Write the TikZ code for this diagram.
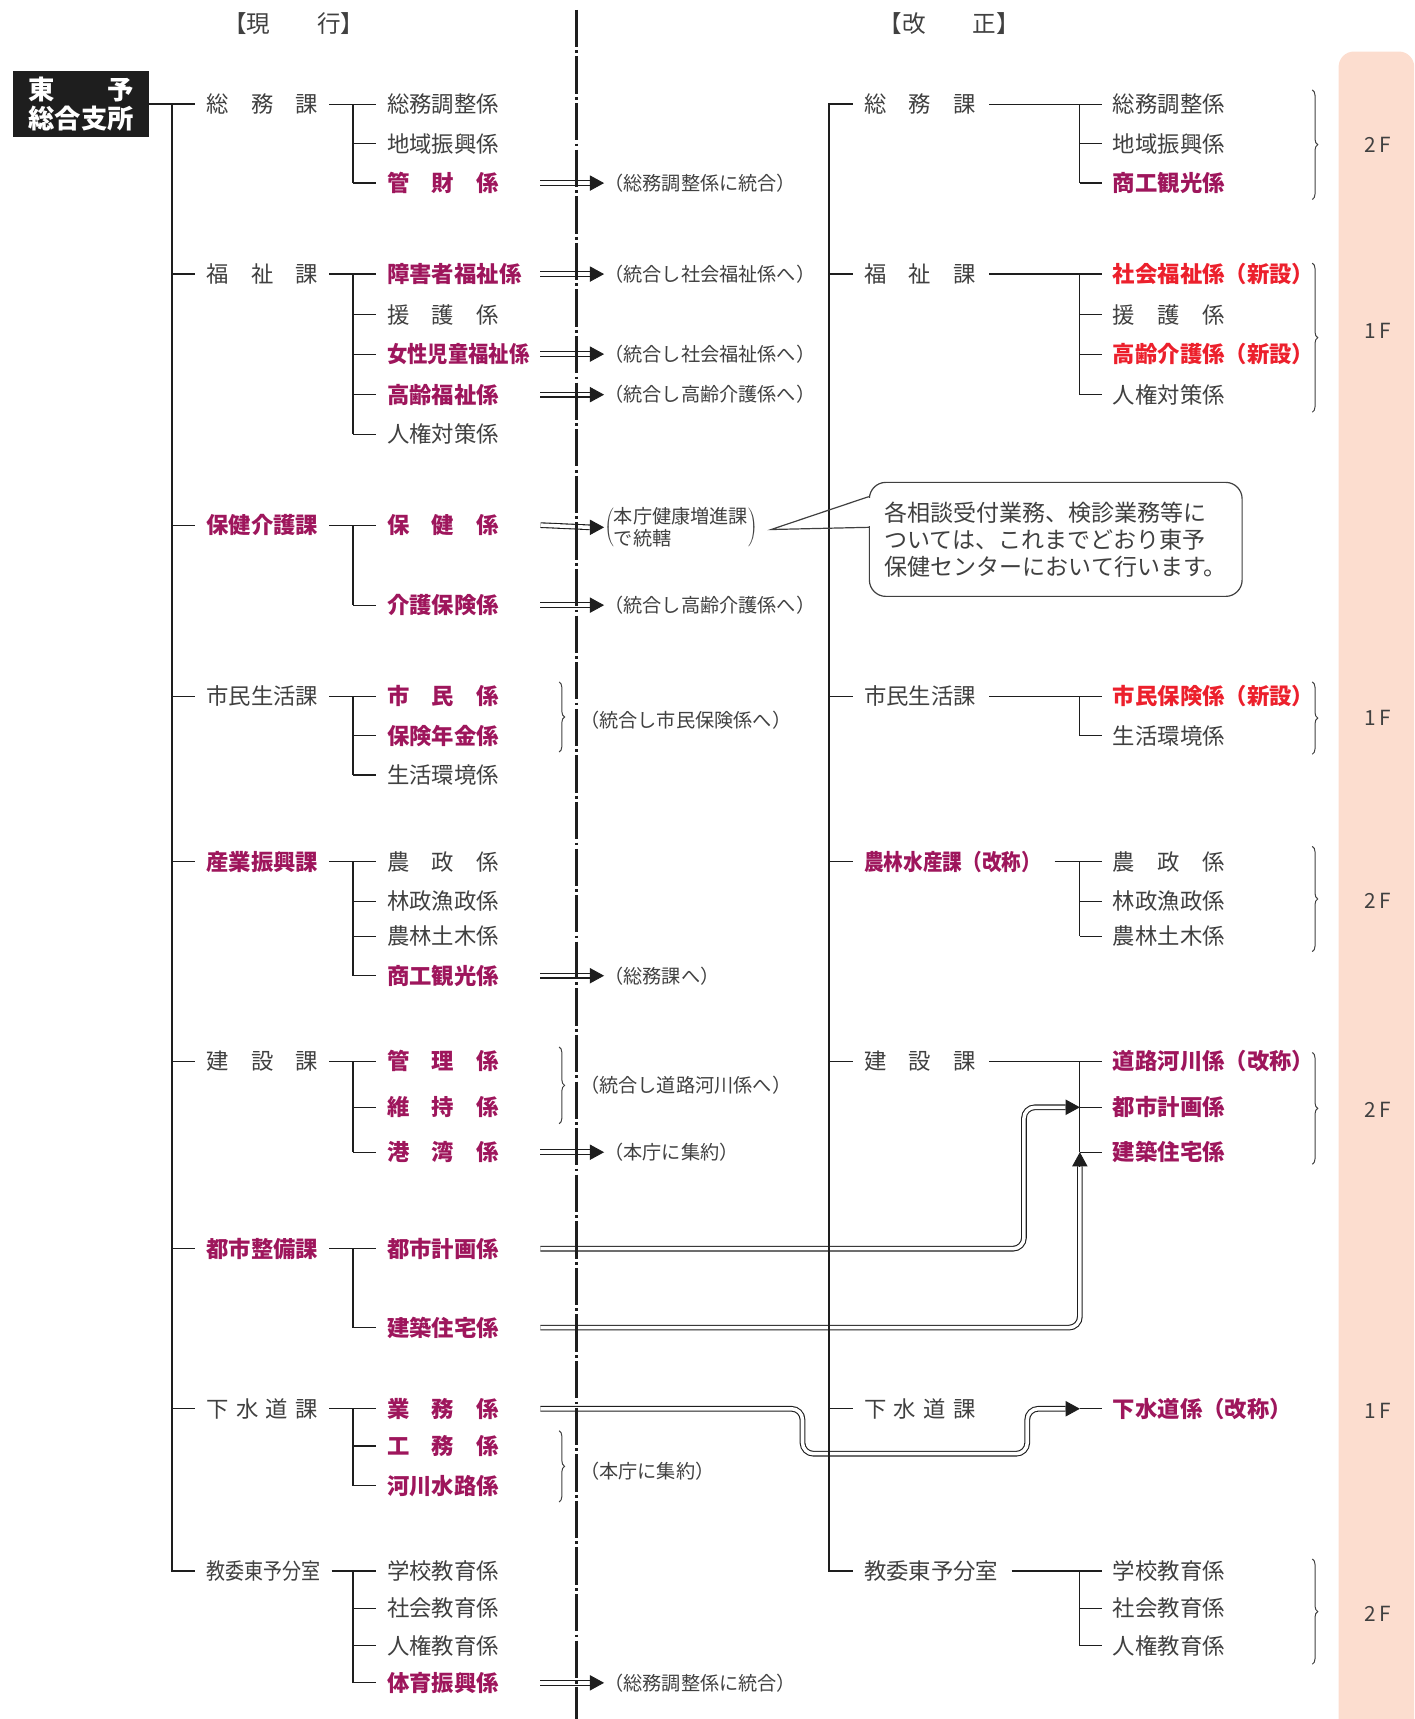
\documentclass[tikz,border=0pt]{standalone}
\usepackage{fontspec}
\setmainfont{Noto Sans CJK JP}
\usetikzlibrary{positioning}
\usetikzlibrary{calc}
\usetikzlibrary{arrows.meta,decorations.pathreplacing}

\definecolor{ink}{RGB}{64,64,64}
\definecolor{rule}{RGB}{30,30,30}
\definecolor{plum}{RGB}{158,22,92}
\definecolor{newred}{RGB}{236,32,44}
\definecolor{floorbg}{RGB}{252,221,207}

\tikzset{
  lbl/.style={anchor=west, inner sep=0pt, text height=18pt, text depth=2.4pt, text=ink, font=\fontsize{20.4pt}{24pt}\selectfont},
  mag/.style={lbl, text=plum, font=\fontsize{20.4pt}{24pt}\selectfont\bfseries},
  neu/.style={lbl, text=newred, font=\fontsize{20.4pt}{24pt}\selectfont\bfseries},
  notetext/.style={lbl, text height=15.4pt, text depth=2.1pt, font=\fontsize{17.5pt}{20pt}\selectfont},
  floortxt/.style={inner sep=0pt, text=ink, font=\fontsize{19pt}{19pt}\selectfont},
  branch/.style={draw=rule, line width=1.1pt},
  stem/.style={draw=rule, line width=1.8pt},
  dbl/.style={draw=rule, line width=1pt, double=white, double distance=3.2pt},
  tohead/.style={draw=rule, line width=.9pt, -{Triangle[length=13pt,width=14pt]}},
  brc/.style={draw=ink, line width=.9pt, decorate, decoration={brace, amplitude=5pt}},
}

\begin{document}
\begin{tikzpicture}[x=1pt,y=-1pt]
\useasboundingbox (0,0) rectangle (1290,1568);
\fill[floorbg, rounded corners=14pt] (1221,1580) -- (1221,47) -- (1290,47) -- (1290,1580);

% titles and head office
\node[lbl, anchor=center, font=\fontsize{21.5pt}{24pt}\selectfont](tGen) at (268,22){【現　　行】};
\node[lbl, anchor=center, font=\fontsize{21.5pt}{24pt}\selectfont](tKai) at (866,22){【改　　正】};
\node[fill=rule, text=white, inner sep=0pt, minimum width=124pt, minimum height=60pt, align=left, font=\fontsize{24pt}{27pt}\selectfont\bfseries](honbu) at (74,95){東　　予\\総合支所};

% current sections
\node[lbl](Lsomu) at (188,95){総　務　課};
\node[lbl](Lfuku) at (188,250){福　祉　課};
\node[mag](Lhoken) at (188,479){保健介護課};
\node[lbl](Lshimin) at (188,635){市民生活課};
\node[mag](Lsangyo) at (188,786){産業振興課};
\node[lbl](Lkensetsu) at (188,968){建　設　課};
\node[mag](Ltoshi) at (188,1139){都市整備課};
\node[lbl](Lgesui) at (188,1285){下\hskip6.8pt水\hskip6.8pt道\hskip6.8pt課};
\node[lbl](Lkyoi) at (188,1433){\scalebox{.85}[1]{教委東予分室}};

% current units
\node[lbl](Lsomu1) at (353,95){総務調整係};
\node[lbl](Lsomu2) at (353,131){地域振興係};
\node[mag](Lsomu3) at (353,167){管　財　係};
\node[mag](Lfuku1) at (353,250){障害者福祉係};
\node[lbl](Lfuku2) at (353,287){援　護　係};
\node[mag](Lfuku3) at (353,323){\scalebox{.91}[1]{女性児童福祉係}};
\node[mag](Lfuku4) at (353,360){高齢福祉係};
\node[lbl](Lfuku5) at (353,396){人権対策係};
\node[mag](Lhoken1) at (353,479){保　健　係};
\node[mag](Lhoken2) at (353,552){介護保険係};
\node[mag](Lshimin1) at (353,635){市　民　係};
\node[mag](Lshimin2) at (353,671){保険年金係};
\node[lbl](Lshimin3) at (353,707){生活環境係};
\node[lbl](Lsangyo1) at (353,786){農　政　係};
\node[lbl](Lsangyo2) at (353,822){林政漁政係};
\node[lbl](Lsangyo3) at (353,854){農林土木係};
\node[mag](Lsangyo4) at (353,890){商工観光係};
\node[mag](Lkensetsu1) at (353,968){管　理　係};
\node[mag](Lkensetsu2) at (353,1010){維　持　係};
\node[mag](Lkensetsu3) at (353,1051){港　湾　係};
\node[mag](Ltoshi1) at (353,1139){都市計画係};
\node[mag](Ltoshi2) at (353,1211){建築住宅係};
\node[mag](Lgesui1) at (353,1285){業　務　係};
\node[mag](Lgesui2) at (353,1319){工　務　係};
\node[mag](Lgesui3) at (353,1355){河川水路係};
\node[lbl](Lkyoi1) at (353,1433){学校教育係};
\node[lbl](Lkyoi2) at (353,1467){社会教育係};
\node[lbl](Lkyoi3) at (353,1501){人権教育係};
\node[mag](Lkyoi4) at (353,1535){体育振興係};

% notes
\node[notetext](nKanzai) at (551,167){（総務調整係に統合）};
\node[notetext](nShogai) at (551,250){（統合し社会福祉係へ）};
\node[notetext](nJosei) at (551,323){（統合し社会福祉係へ）};
\node[notetext](nKorei) at (551,360){（統合し高齢介護係へ）};
\node[anchor=west, inner sep=0pt, text=ink, font=\fontsize{17.5pt}{19.5pt}\selectfont](nHoken) at (551,481){$\left(\vcenter{\hbox{本庁健康増進課}\hbox{で統轄}}\right)$};
\node[notetext](nKaigo) at (551,552){（統合し高齢介護係へ）};
\node[notetext](nShimin) at (529,657){（統合し市民保険係へ）};
\node[notetext](nShoko) at (551,890){（総務課へ）};
\node[notetext](nKenset) at (529,990){（統合し道路河川係へ）};
\node[notetext](nKowan) at (551,1051){（本庁に集約）};
\node[notetext](nGesui) at (529,1342){（本庁に集約）};
\node[notetext](nTaiiku) at (551,1535){（総務調整係に統合）};

% revised sections
\node[lbl](Rsomu) at (788,95){総　務　課};
\node[lbl](Rfuku) at (788,250){福　祉　課};
\node[lbl](Rshimin) at (788,635){市民生活課};
\node[mag](Rnorin) at (788,786){\scalebox{.88}[1]{農林水産課（改称）}};
\node[lbl](Rkensetsu) at (788,968){建　設　課};
\node[lbl](Rgesui) at (788,1285){下\hskip6.8pt水\hskip6.8pt道\hskip6.8pt課};
\node[lbl](Rkyoi) at (788,1433){教委東予分室};

% revised units
\node[lbl](Rsomu1) at (1015,95){総務調整係};
\node[lbl](Rsomu2) at (1015,131){地域振興係};
\node[mag](Rsomu3) at (1015,167){商工観光係};
\node[neu](Rfuku1) at (1015,250){社会福祉係（新設）};
\node[lbl](Rfuku2) at (1015,287){援　護　係};
\node[neu](Rfuku3) at (1015,323){高齢介護係（新設）};
\node[lbl](Rfuku4) at (1015,360){人権対策係};
\node[neu](Rshimin1) at (1015,635){市民保険係（新設）};
\node[lbl](Rshimin2) at (1015,671){生活環境係};
\node[lbl](Rnorin1) at (1015,786){農　政　係};
\node[lbl](Rnorin2) at (1015,822){林政漁政係};
\node[lbl](Rnorin3) at (1015,854){農林土木係};
\node[mag](Rkensetsu1) at (1015,968){道路河川係（改称）};
\node[mag](Rkensetsu2) at (1015,1010){都市計画係};
\node[mag](Rkensetsu3) at (1015,1051){建築住宅係};
\node[mag](Rgesui1) at (1015,1285){下水道係（改称）};
\node[lbl](Rkyoi1) at (1015,1433){学校教育係};
\node[lbl](Rkyoi2) at (1015,1467){社会教育係};
\node[lbl](Rkyoi3) at (1015,1501){人権教育係};

% floors
\node[floortxt](f1) at (1257,132){2\kern3pt F};
\node[floortxt](f2) at (1257,302){1\kern3pt F};
\node[floortxt](f3) at (1257,655){1\kern3pt F};
\node[floortxt](f4) at (1257,822){2\kern3pt F};
\node[floortxt](f5) at (1257,1012){2\kern3pt F};
\node[floortxt](f6) at (1257,1287){1\kern3pt F};
\node[floortxt](f7) at (1257,1472){2\kern3pt F};

\coordinate (Ltr) at (157,1433);
\coordinate (Lv) at (322,0);
\coordinate (Lx) at (493,0);
\coordinate (Rtr) at (756,1433);
\coordinate (Rv) at (985,0);
\coordinate (Ux) at (934,0);
\coordinate (Dx) at (732,1326);
\coordinate (Ex) at (937,0);

% moves (double lines)
\foreach \c/\n in {Lsomu3/nKanzai,Lfuku1/nShogai,Lfuku3/nJosei,Lfuku4/nKorei,Lhoken1/nHoken,Lhoken2/nKaigo,Lsangyo4/nShoko,Lkensetsu3/nKowan,Lkyoi4/nTaiiku}{
  \draw[dbl] (Lx |- \c) -- ($(\n.west)+(-13,0)$);
  \draw[tohead] ($(\n.west)+(-13,0)$) -- (\n.west);
}
\draw[dbl, rounded corners=10pt] (Lx |- Ltoshi1) -- (Ux |- Ltoshi1) -- (Ux |- Rkensetsu2) -- ($(Rv |- Rkensetsu2)+(-13,0)$);
\draw[tohead] ($(Rv |- Rkensetsu2)+(-13,0)$) -- (Rv |- Rkensetsu2);
\draw[dbl, rounded corners=10pt] (Lx |- Ltoshi2) -- (Rv |- Ltoshi2) -- ($(Rv |- Rkensetsu3)+(0,13)$);
\draw[tohead] ($(Rv |- Rkensetsu3)+(0,13)$) -- (Rv |- Rkensetsu3);
\draw[dbl, rounded corners=10pt] (Lx |- Lgesui1) -- (Dx |- Lgesui1) -- (Dx) -- (Ex |- Dx) -- (Ex |- Rgesui1) -- ($(Rv |- Rgesui1)+(-13,0)$);
\draw[tohead] ($(Rv |- Rgesui1)+(-13,0)$) -- (Rv |- Rgesui1);

% divider
\draw[rule, line width=2.7pt, dash pattern=on 34pt off 3pt on 2.5pt off 3pt] (526,9) -- (526,1568);

% current tree
\draw[stem, shorten >=10pt] (honbu) -- (Lsomu);
\draw[stem] (Ltr |- honbu) -- (Ltr) -- ($(Lkyoi.west)+(-10,0)$);
\foreach \s in {Lfuku,Lhoken,Lshimin,Lsangyo,Lkensetsu,Ltoshi,Lgesui}
  \draw[branch, shorten >=10pt] (Ltr |- \s) -- (\s);
\foreach \a/\b in {Lsomu/Lsomu1,Lfuku/Lfuku1,Lhoken/Lhoken1,Lshimin/Lshimin1,Lsangyo/Lsangyo1,Lkensetsu/Lkensetsu1,Ltoshi/Ltoshi1,Lgesui/Lgesui1,Lkyoi/Lkyoi1}
  \draw[branch, shorten <=10pt, shorten >=10pt] (\a) -- (\b);
\foreach \a/\b in {Lsomu1/Lsomu3,Lfuku1/Lfuku5,Lhoken1/Lhoken2,Lshimin1/Lshimin3,Lsangyo1/Lsangyo4,Lkensetsu1/Lkensetsu3,Ltoshi1/Ltoshi2,Lgesui1/Lgesui3,Lkyoi1/Lkyoi4}
  \draw[branch] (Lv |- \a) -- (Lv |- \b);
\foreach \c in {Lsomu2,Lsomu3,Lfuku2,Lfuku3,Lfuku4,Lfuku5,Lhoken2,Lshimin2,Lshimin3,Lsangyo2,Lsangyo3,Lsangyo4,Lkensetsu2,Lkensetsu3,Ltoshi2,Lgesui2,Lgesui3,Lkyoi2,Lkyoi3,Lkyoi4}
  \draw[branch, shorten >=10pt] (Lv |- \c) -- (\c);

% revised tree
\draw[stem] ($(Rsomu.west)+(-10,0)$) -| (Rtr) -- ($(Rkyoi.west)+(-10,0)$);
\foreach \s in {Rfuku,Rshimin,Rnorin,Rkensetsu,Rgesui}
  \draw[branch, shorten >=10pt] (Rtr |- \s) -- (\s);
\foreach \a/\b in {Rsomu/Rsomu1,Rfuku/Rfuku1,Rshimin/Rshimin1,Rnorin/Rnorin1,Rkensetsu/Rkensetsu1,Rkyoi/Rkyoi1}
  \draw[branch, shorten <=12pt, shorten >=10pt] (\a) -- (\b);
\foreach \a/\b in {Rsomu1/Rsomu3,Rfuku1/Rfuku4,Rshimin1/Rshimin2,Rnorin1/Rnorin3,Rkensetsu1/Rkensetsu3,Rkyoi1/Rkyoi3}
  \draw[branch] (Rv |- \a) -- (Rv |- \b);
\foreach \c in {Rsomu2,Rsomu3,Rfuku2,Rfuku3,Rfuku4,Rshimin2,Rnorin2,Rnorin3,Rkensetsu2,Rkensetsu3,Rgesui1,Rkyoi2,Rkyoi3}
  \draw[branch, shorten >=10pt] (Rv |- \c) -- (\c);

% braces
\draw[brc] (510,622) -- (510,686);
\draw[brc] (510,955) -- (510,1025);
\draw[brc] (510,1305) -- (510,1370);
\draw[brc] (1197,82) -- (1197,182);
\draw[brc] (1197,240) -- (1197,376);
\draw[brc] (1197,622) -- (1197,688);
\draw[brc] (1197,772) -- (1197,868);
\draw[brc] (1197,960) -- (1197,1062);
\draw[brc] (1197,1422) -- (1197,1518);

% callout
\node[draw=ink, line width=1.1pt, rounded corners=15pt, fill=white, minimum width=340pt, minimum height=104pt, inner sep=0pt, align=left, text=ink, font=\fontsize{21pt}{24.5pt}\selectfont](memo) at (963,492){各相談受付業務、検診業務等に\\ついては、これまでどおり東予\\保健センターにおいて行います。};
\coordinate (ptip) at ($(nHoken.east)+(12,2)$);
\coordinate (pa) at ($(memo.west)+(0,-39)$);
\coordinate (pb) at ($(memo.west)+(0,-11)$);
\fill[white] ($(pa)+(-2,1)$) rectangle ($(pb)+(2,-1)$);
\draw[ink, line width=1.1pt] (pa) -- (ptip) -- (pb);
\end{tikzpicture}
\end{document}
